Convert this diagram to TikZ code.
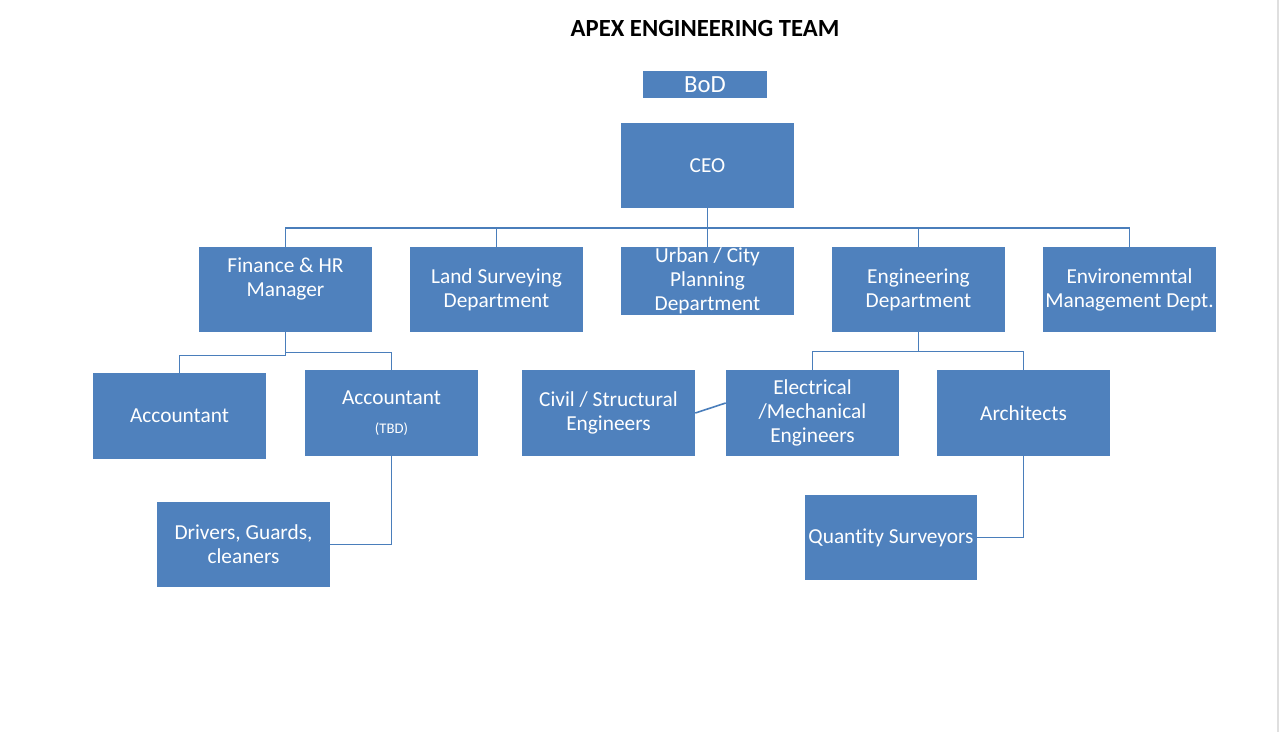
\documentclass[tikz,border=0pt]{standalone}
\usepackage{fontspec}
\setmainfont{Carlito}[Ligatures=NoCommon]
\definecolor{boxblue}{RGB}{79,129,189}
\definecolor{lineblue}{RGB}{74,126,187}
\tikzset{
  unit/.style={fill=boxblue, text=white, align=center, inner sep=0.75pt,
    minimum width=129.75pt, minimum height=64pt, font=\fontsize{16}{18}\selectfont},
  link/.style={draw=lineblue, line width=1.2pt},
}
\begin{document}
\begin{tikzpicture}[x=0.75pt,y=0.75pt,yscale=-1,xscale=1]
                \useasboundingbox (0,0) rectangle (1280,732);
                \fill [white] (0,0) rectangle (1280,732);
                \draw [color=gray!25, line width=1.5pt] (1278,0) -- (1278,732);
                % title and top
                \node (title) at (705,28) [font=\fontsize{18.5}{21}\selectfont\bfseries] {APEX ENGINEERING TEAM};
                \node (bod) at (705,84.5) [unit, minimum width=93pt, minimum height=20.25pt, font=\fontsize{18.5}{21}\selectfont] {BoD};
                \node (ceo) at (707.5,165.5) [unit] {CEO};
                % departments
                \node (fin) at (285.5,289.5) [unit] {Finance \& HR\\Manager\\\mbox{}};
                \node (land) at (496.5,289.5) [unit] {Land Surveying\\Department};
                \node (urban) at (707.5,281) [unit, minimum height=51pt] {Urban / City\\Planning\\Department};
                \node (eng) at (918.5,289.5) [unit] {Engineering\\Department};
                \node (env) at (1129.5,289.5) [unit] {Environemntal\\Management Dept.};
                % staff
                \node (acc) at (179.5,416) [unit] {Accountant};
                \node (acctbd) at (391.5,413) [unit] {Accountant\\[4pt]{\fontsize{11}{13}\selectfont (TBD)}};
                \node (drivers) at (243.5,544.5) [unit] {Drivers, Guards,\\cleaners};
                \node (civil) at (608.5,413) [unit] {Civil / Structural\\Engineers};
                \node (elec) at (812.5,413) [unit] {Electrical\\/Mechanical\\Engineers};
                \node (arch) at (1023.5,413) [unit] {Architects};
                \node (qs) at (891,537.5) [unit, minimum width=129pt] {Quantity Surveyors};
                % connectors
                \coordinate (bus) at (708,228);
                \draw [link] (ceo.south) -- (ceo.south |- bus);
                \draw [link] (fin.north) -- (fin.north |- bus) -- (env.north |- bus) -- (env.north);
                \draw [link] (land.north) -- (land.north |- bus);
                \draw [link] (urban.north) -- (urban.north |- bus);
                \draw [link] (eng.north) -- (eng.north |- bus);
                \draw [link] (fin.south) -- ++(0,23) -| (acc.north);
                \draw [link] (fin.south) ++(0,20) -| (acctbd.north);
                \draw [link] (acctbd.south) |- (drivers.east);
                \draw [link] (eng.south) -- ++(0,19) -| (elec.north);
                \draw [link] (eng.south) ++(0,19) -| (arch.north);
                \draw [link] (civil.east) -- ([yshift=-7.5pt]elec.west);
                \draw [link] (arch.south) |- (qs.east);
            \end{tikzpicture}
\end{document}
